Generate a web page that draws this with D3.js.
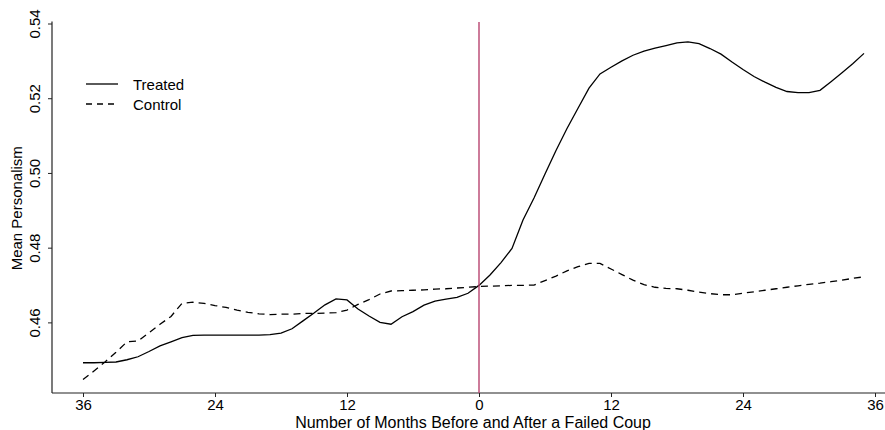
<!DOCTYPE html>
<html>
<head>
<meta charset="utf-8">
<script src="https://cdn.jsdelivr.net/npm/d3@7"></script>
<style>
  body { margin: 0; background: #fff; }
  text { font-family: "Liberation Sans", Arial, sans-serif; fill: #000; }
</style>
</head>
<body>
<svg id="chart" width="885" height="430"></svg>
<script>
// months relative to the failed coup
const months = [-36,-35,-34,-33,-32,-31,-30,-29,-28,-27,-26,-25,-24,-23,-22,-21,-20,-19,-18,-17,-16,-15,-14,-13,
  -12,-11,-10,-9,-8,-7,-6,-5,-4,-3,-2,-1,0,1,2,3,4,5,6,7,8,9,10,11,
  12,13,14,15,16,17,18,19,20,21,22,23,24,25,26,27,28,29,30,31,32,33,34,35];

const treated = [0.4492,0.4492,0.4493,0.4494,0.4500,0.4508,0.4522,0.4537,0.4548,0.4559,0.4565,0.4566,
  0.4566,0.4566,0.4566,0.4566,0.4566,0.4567,0.4571,0.4583,0.4604,0.4625,0.4647,0.4663,
  0.4660,0.4636,0.4617,0.4600,0.4595,0.4615,0.4629,0.4646,0.4657,0.4662,0.4667,0.4678,
  0.4699,0.4727,0.4760,0.4798,0.4874,0.4933,0.4997,0.5060,0.5119,0.5173,0.5227,0.5265,
  0.5283,0.5300,0.5315,0.5326,0.5334,0.5341,0.5348,0.5351,0.5346,0.5333,0.5318,0.5297,
  0.5277,0.5258,0.5243,0.5229,0.5218,0.5215,0.5215,0.5221,0.5244,0.5268,0.5293,0.5320];

const control = [0.4447,0.4470,0.4494,0.4520,0.4548,0.4550,0.4572,0.4595,0.4616,0.4651,0.4654,0.4651,
  0.4645,0.4640,0.4633,0.4627,0.4623,0.4621,0.4622,0.4622,0.4624,0.4624,0.4625,0.4626,
  0.4633,0.4648,0.4661,0.4676,0.4684,0.4685,0.4686,0.4687,0.4689,0.4690,0.4692,0.4694,
  0.4696,0.4697,0.4698,0.4699,0.4699,0.4700,0.4712,0.4724,0.4738,0.4749,0.4758,0.4758,
  0.4743,0.4728,0.4713,0.4701,0.4694,0.4691,0.4690,0.4686,0.4681,0.4677,0.4674,0.4674,
  0.4678,0.4682,0.4686,0.4690,0.4694,0.4698,0.4702,0.4705,0.4709,0.4713,0.4718,0.4722];

const xTicks = [-36, -24, -12, 0, 12, 24, 36];
const yTicks = [0.46, 0.48, 0.50, 0.52, 0.54];
const seriesNames = ["Treated", "Control"];

const svg = d3.select("#chart");
const W = 885, H = 430;
const left = 52, bottom = 393;

const x = d3.scaleLinear().domain([-36, 36]).range([83, 875]);
const y = d3.scaleLinear().domain([0.4411, 0.54]).range([bottom, 23.5]);

// axes
const xAxis = svg.append("g")
  .attr("transform", `translate(0,${bottom})`)
  .call(d3.axisBottom(x).tickValues(xTicks).tickFormat(d => Math.abs(d)).tickSize(4).tickPadding(2));
xAxis.select(".domain").remove();
xAxis.selectAll("line").attr("stroke", "#222");
xAxis.selectAll("text").style("font-size", "15px").attr("font-family", null);

const yAxis = svg.append("g")
  .attr("transform", `translate(${left},0)`)
  .call(d3.axisLeft(y).tickValues(yTicks).tickFormat(d3.format(".2f")).tickSize(4));
yAxis.select(".domain").remove();
yAxis.selectAll("line").attr("stroke", "#222");
yAxis.selectAll("text")
  .attr("x", null).attr("dy", null)
  .attr("text-anchor", "middle")
  .attr("transform", "translate(-12,0) rotate(-90)")
  .style("font-size", "15px");

// axis lines
svg.append("line").attr("x1", left).attr("x2", W).attr("y1", bottom).attr("y2", bottom)
  .attr("stroke", "#222").attr("stroke-width", 1.2);
svg.append("line").attr("x1", left).attr("x2", left).attr("y1", y(0.54) - 2).attr("y2", bottom)
  .attr("stroke", "#222").attr("stroke-width", 1.2);

// titles
svg.append("text")
  .attr("x", 473).attr("y", 428)
  .attr("text-anchor", "middle").style("font-size", "16px")
  .text("Number of Months Before and After a Failed Coup");
svg.append("text")
  .attr("transform", `translate(22,${(y(0.54) + bottom) / 2}) rotate(-90)`)
  .attr("text-anchor", "middle").style("font-size", "15px")
  .text("Mean Personalism");

// lines
const line = vals => d3.line().x((d, i) => x(months[i])).y(d => y(d))(vals);

svg.append("path").attr("d", line(control))
  .attr("fill", "none").attr("stroke", "#000").attr("stroke-width", 1.3)
  .attr("stroke-dasharray", "7,5");
svg.append("path").attr("d", line(treated))
  .attr("fill", "none").attr("stroke", "#000").attr("stroke-width", 1.3);

// coup line
svg.append("line")
  .attr("x1", x(0)).attr("x2", x(0)).attr("y1", 22).attr("y2", bottom)
  .attr("stroke", "#b8446f").attr("stroke-width", 1.4);

// legend
const legend = svg.append("g").selectAll("g").data(seriesNames).enter().append("g")
  .attr("transform", (d, i) => `translate(86,${84 + i * 20})`);
legend.append("line").attr("x1", 0).attr("x2", 32).attr("y1", 0).attr("y2", 0)
  .attr("stroke", "#000").attr("stroke-width", 1.3)
  .attr("stroke-dasharray", (d, i) => i === 1 ? "6,5" : null);
legend.append("text").attr("x", 47).attr("y", 6).style("font-size", "15px").text(d => d);
</script>
</body>
</html>
